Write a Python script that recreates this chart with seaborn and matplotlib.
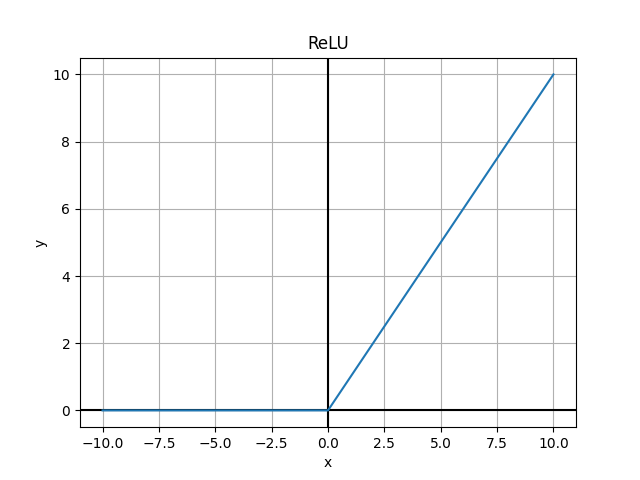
import matplotlib
matplotlib.use("Agg")
import matplotlib.pyplot as plt
import seaborn as sns
import pandas as pd

# ReLU: y = max(0, x) at its corner points
x_values = [-10.0, -5.0, 0.0, 5.0, 10.0]
y_values = [0.0, 0.0, 0.0, 5.0, 10.0]

data = pd.DataFrame({"x": x_values, "y": y_values})

fig, ax = plt.subplots(figsize=(6.4, 4.8), dpi=100)

# axis lines through the origin: above the grid, below the curve
ax.axhline(0, color="black", zorder=2)
ax.axvline(0, color="black", zorder=2)

sns.lineplot(data=data, x="x", y="y", ax=ax, color="#1f77b4", zorder=3)

ax.set_title("ReLU")
ax.set_xlabel("x")
ax.set_ylabel("y")
ax.grid(True)

fig.savefig("out.png", dpi=100)
